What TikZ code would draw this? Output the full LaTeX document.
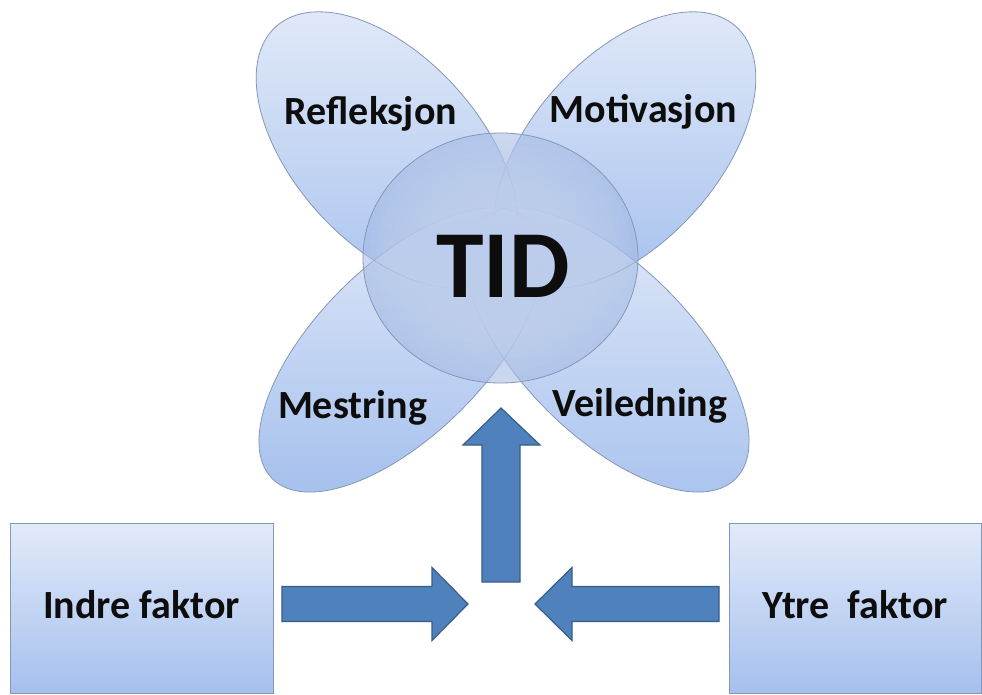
\documentclass[tikz,border=0pt]{standalone}
\usepackage{fontspec}
\setmainfont{Carlito}
\usetikzlibrary{shapes.geometric}
\definecolor{petalL}{HTML}{E3EBF9}
\definecolor{petalD}{HTML}{A8C2EE}
\definecolor{edgeC}{HTML}{8597B6}
\definecolor{arrowF}{HTML}{4F81BD}
\definecolor{arrowD}{HTML}{385D8A}
\definecolor{circI}{HTML}{C3D3F1}
\definecolor{circO}{HTML}{A3B9E3}
\definecolor{boxL}{HTML}{E2EAF9}
\definecolor{boxD}{HTML}{A5C0EE}
\definecolor{txt}{HTML}{0D0D0D}
\tikzset{
  petalfill/.style={ellipse, inner sep=0pt, top color=petalL, bottom color=petalD, draw=none},
  petaledge/.style={ellipse, inner sep=0pt, draw=edgeC, line width=0.8pt},
  topsize/.style={minimum width=332pt, minimum height=186pt},
  botsize/.style={minimum width=364pt, minimum height=170pt},
  lbl/.style={anchor=base, inner sep=0pt, text=txt, font=\bfseries\fontsize{40}{40}\selectfont},
  factorbox/.style={rectangle, inner sep=0pt, draw=edgeC, line width=0.8pt, top color=boxL, bottom color=boxD},
  blockarrow/.style={fill=arrowF, draw=arrowD, line width=1.2pt, line join=miter}
}
\begin{document}
\begin{tikzpicture}[x=1pt, y=-1pt]
\useasboundingbox (0,0) rectangle (982,695);
\fill[white] (0,0) rectangle (982,695);
% petals: fills
\node[petalfill, topsize, rotate=-48] (refl) at (387,150) {};
\node[petalfill, topsize, rotate=48] (motiv) at (625,150) {};
\node[petalfill, botsize, rotate=45] (mestr) at (401,350) {};
\node[petalfill, botsize, rotate=-45] (veil) at (607,350) {};
% petals: outlines
\node[petaledge, topsize, rotate=-48] (reflE) at (refl) {};
\node[petaledge, topsize, rotate=48] (motivE) at (motiv) {};
\node[petaledge, botsize, rotate=45] (mestrE) at (mestr) {};
\node[petaledge, botsize, rotate=-45] (veilE) at (veil) {};
% centre circle: translucent base, denser towards the middle, outline
\node[ellipse, inner sep=0pt, minimum width=275pt, minimum height=250pt,
      fill=circO, fill opacity=0.55] (tid) at (500.5,258) {};
\foreach \f in {0.96,0.91,...,0.30}
  \fill[circI, fill opacity=0.14] (tid.center) ellipse [x radius=137.5*\f, y radius=125*\f];
\draw[edgeC, line width=0.8pt] (tid.center) ellipse [x radius=137.5, y radius=125];
% labels
\node[lbl] (treflT) at (371,125) {Refleksjon};
\node[lbl] (tmotT) at (643.5,123) {Motivasjon};
\node[lbl] (tmesT) at (352.5,418) {Mestring};
\node[lbl] (tveiT) at (640,416) {Veiledning};
\node[anchor=base, inner sep=0pt, text=txt, font=\bfseries\fontsize{96}{96}\selectfont] (tidT) at (503,297) {TID};
% boxes
\node[factorbox, minimum width=263pt, minimum height=170pt] (indre) at (141.5,608) {};
\node[factorbox, minimum width=252pt, minimum height=170pt] (ytre) at (855,608) {};
\node[lbl] (indreT) at (indre.center |- 0,618) {Indre faktor};
\node[lbl] (ytreT) at (ytre.center |- 0,618) {Ytre\ \ faktor};
% hub where the arrows meet
\coordinate (hub) at (501,604);
% block arrows
\draw[blockarrow] (282,586.5) -- (432,586.5) -- (432,567.5) -- (468,604) -- (432,640.5) -- (432,621.5) -- (282,621.5) -- cycle;
\draw[blockarrow] (719,586.5) -- (572,586.5) -- (572,567.5) -- (535,604) -- (572,640.5) -- (572,621.5) -- (719,621.5) -- cycle;
\draw[blockarrow] (482,582) -- (482,445) -- (463,445) -- (501,408) -- (540,445) -- (520,445) -- (520,582) -- cycle;
\end{tikzpicture}
\end{document}
